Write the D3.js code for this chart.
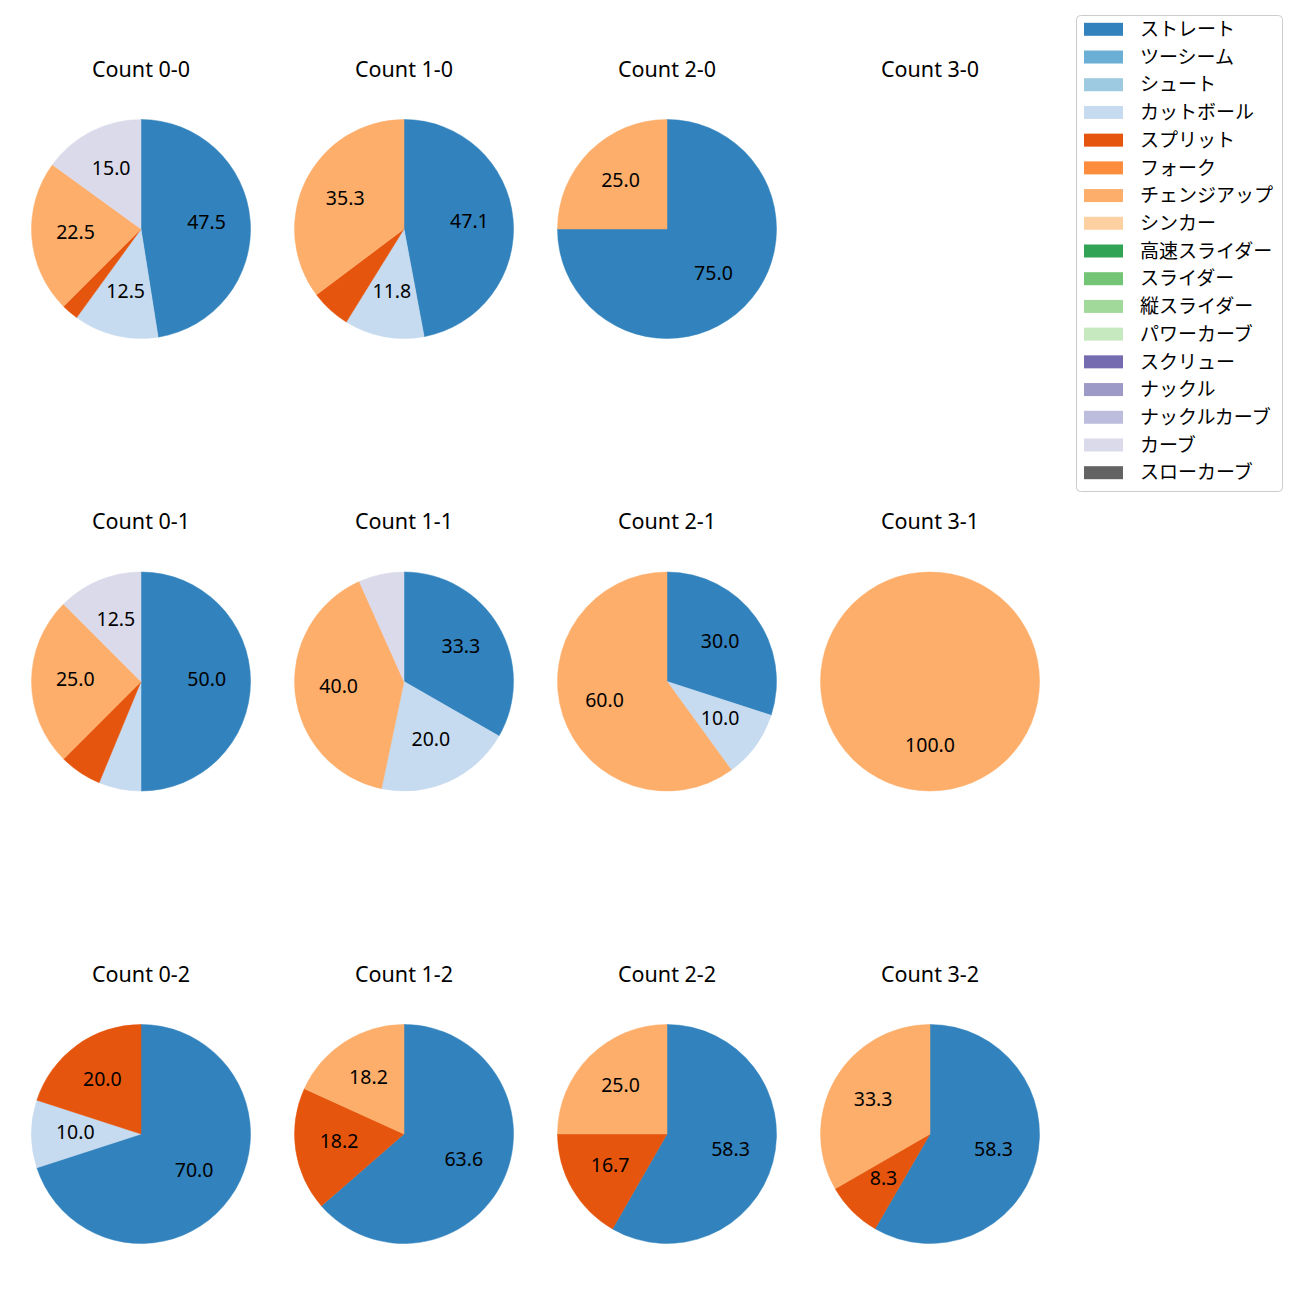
<!DOCTYPE html>
<html>
<head>
<meta charset="utf-8">
<script src="https://cdn.jsdelivr.net/npm/d3@7"></script>
<style>
html,body{margin:0;padding:0;background:#fff;}
svg{display:block;font-family:"Noto Sans","Noto Sans CJK JP",sans-serif;}
</style>
</head>
<body>
<div id="chart"></div>
<script>
const pitchTypes = ["ストレート","ツーシーム","シュート","カットボール","スプリット","フォーク","チェンジアップ","シンカー","高速スライダー","スライダー","縦スライダー","パワーカーブ","スクリュー","ナックル","ナックルカーブ","カーブ","スローカーブ"];
const pitchColors = ["#3182bd","#6baed6","#9ecae1","#c6dbef","#e6550d","#fd8d3c","#fdae6b","#fdd0a2","#31a354","#74c476","#a1d99b","#c7e9c0","#756bb1","#9e9ac8","#bcbddc","#dadaeb","#636363"];
const countLabels = ["0-0","1-0","2-0","3-0","0-1","1-1","2-1","3-1","0-2","1-2","2-2","3-2"];
// percentages per count, in pitchTypes order
const count00 = [47.5,0,0,12.5,2.5,0,22.5,0,0,0,0,0,0,0,0,15.0,0];
const count10 = [47.1,0,0,11.8,5.9,0,35.3,0,0,0,0,0,0,0,0,0,0];
const count20 = [75.0,0,0,0,0,0,25.0,0,0,0,0,0,0,0,0,0,0];
const count30 = [0,0,0,0,0,0,0,0,0,0,0,0,0,0,0,0,0];
const count01 = [50.0,0,0,6.25,6.25,0,25.0,0,0,0,0,0,0,0,0,12.5,0];
const count11 = [33.3,0,0,20.0,0,0,40.0,0,0,0,0,0,0,0,0,6.7,0];
const count21 = [30.0,0,0,10.0,0,0,60.0,0,0,0,0,0,0,0,0,0,0];
const count31 = [0,0,0,0,0,0,100.0,0,0,0,0,0,0,0,0,0,0];
const count02 = [70.0,0,0,10.0,20.0,0,0,0,0,0,0,0,0,0,0,0,0];
const count12 = [63.6,0,0,0,18.2,0,18.2,0,0,0,0,0,0,0,0,0,0];
const count22 = [58.3,0,0,0,16.7,0,25.0,0,0,0,0,0,0,0,0,0,0];
const count32 = [58.3,0,0,0,8.3,0,33.3,0,0,0,0,0,0,0,0,0,0];
const countValues = [count00,count10,count20,count30,count01,count11,count21,count31,count02,count12,count22,count32];

const W = 1300, H = 1300;
const svg = d3.select("#chart").append("svg").attr("width", W).attr("height", H);

const color = d3.scaleOrdinal().domain(pitchTypes).range(pitchColors);
const colX = d3.scalePoint().domain([0,1,2,3]).range([141, 930]);
const rowY = d3.scalePoint().domain([0,1,2]).range([229, 1134]);
const R = 109.5;
const titleOffset = 152.5;

const pie = d3.pie().sort(null).value(d => d.v).startAngle(0).endAngle(2*Math.PI);
const arc = d3.arc().innerRadius(0).outerRadius(R);
const labelArc = d3.arc().innerRadius(R*0.6).outerRadius(R*0.6);

countLabels.forEach((lab, i) => {
  const cx = colX(i % 4), cy = rowY(Math.floor(i / 4));
  const g = svg.append("g").attr("transform", `translate(${cx},${cy})`);
  g.append("text").attr("x", 0).attr("y", -titleOffset)
    .attr("text-anchor", "middle").attr("font-size", 21.5).attr("fill", "#000")
    .text("Count " + lab);
  const vals = countValues[i];
  const total = d3.sum(vals);
  if (total <= 0) return;
  const data = pitchTypes.map((p, k) => ({p, v: vals[k]})).filter(d => d.v > 0);
  const arcs = pie(data);
  g.selectAll("path").data(arcs).join("path")
    .attr("d", arc)
    .attr("fill", d => color(d.data.p))
    .attr("stroke", d => color(d.data.p)).attr("stroke-width", 0.5);
  g.selectAll("text.lbl").data(arcs.filter(d => d.data.v / total * 100 >= 7)).join("text")
    .attr("class", "lbl")
    .attr("transform", d => `translate(${labelArc.centroid(d)})`)
    .attr("text-anchor", "middle").attr("dy", "0.25em")
    .attr("font-size", 19.5).attr("fill", "#000")
    .text(d => d.data.v.toFixed(1));
});

// legend
const lg = svg.append("g");
lg.append("rect").attr("x", 1076.5).attr("y", 15.5).attr("width", 206).attr("height", 476)
  .attr("rx", 4).attr("fill", "#fff").attr("stroke", "#ccc").attr("stroke-width", 1);
const ly = d3.scalePoint().domain(pitchTypes).range([29.3, 472.7]);
const items = lg.selectAll("g.item").data(pitchTypes).join("g").attr("class", "item")
  .attr("transform", d => `translate(0,${ly(d)})`);
items.append("rect").attr("x", 1084).attr("y", -6.5).attr("width", 39).attr("height", 13)
  .attr("fill", d => color(d));
items.append("text").attr("x", 1140).attr("y", 0).attr("dy", "0.35em")
  .attr("font-size", 19).attr("fill", "#000").text(d => d);
</script>
</body>
</html>
